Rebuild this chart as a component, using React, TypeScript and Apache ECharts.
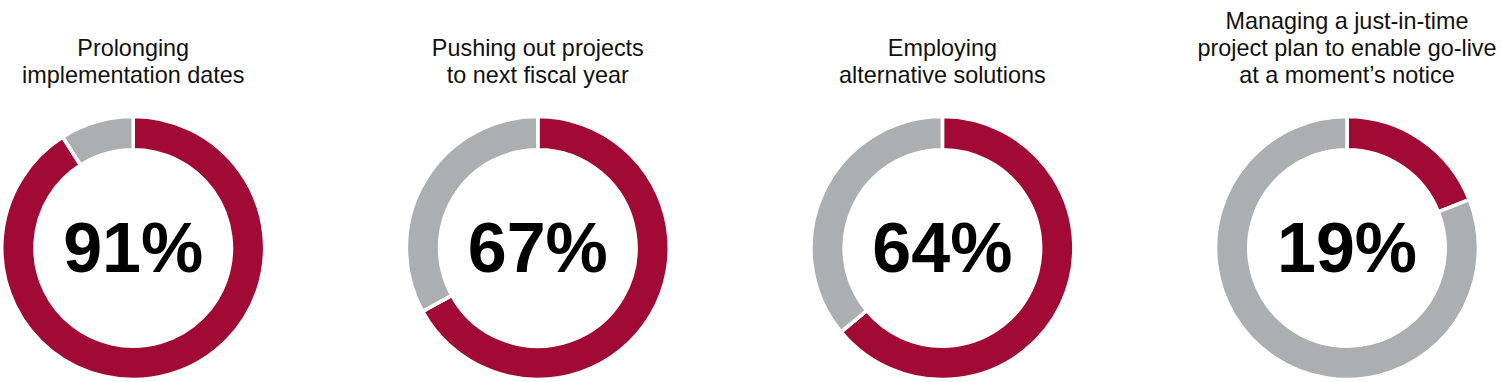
import React, { useEffect, useRef } from "react";
import * as echarts from "echarts";

const categories = [
  "Prolonging\nimplementation dates",
  "Pushing out projects\nto next fiscal year",
  "Employing\nalternative solutions",
  "Managing a just-in-time\nproject plan to enable go-live\nat a moment\u2019s notice",
];
const shareValues = [91, 67, 64, 19];

const RED = "#A10A35";
const GRAY = "#ACAFB2";

export default function App() {
  const ref = useRef<HTMLDivElement>(null);
  useEffect(() => {
    if (!ref.current) return;
    const chart = echarts.init(ref.current, undefined, { renderer: "svg" });
    const cx0 = 133.2;
    const step = 404.6;
    const cy = 248;
    const series = shareValues.map((v, i) => ({
      type: "pie",
      center: [cx0 + i * step, cy],
      radius: [98.2, 131.5],
      startAngle: 90,
      clockwise: true,
      silent: true,
      labelLine: { show: false },
      itemStyle: { borderColor: "#ffffff", borderWidth: 3.6 },
      data: [
        {
          value: v,
          name: "yes",
          itemStyle: { color: RED },
          label: {
            show: true,
            position: "center",
            formatter: v + "%",
            fontFamily: "Liberation Sans",
            fontWeight: "bold",
            fontSize: 70,
            color: "#000000",
          },
        },
        {
          value: 100 - v,
          name: "no",
          itemStyle: { color: GRAY },
          label: { show: false },
        },
      ],
    }));
    const titles = categories.map((c, i) => {
      const lines = c.split("\n").length;
      return {
        text: c,
        left: cx0 + i * step,
        top: lines === 3 ? 7 : 34,
        textAlign: "center",
        padding: 0,
        textStyle: {
          fontFamily: "Liberation Sans",
          fontWeight: "normal",
          fontSize: 23.4,
          lineHeight: 27,
          color: "#111111",
        },
      };
    });
    chart.setOption({
      animation: false,
      backgroundColor: "#ffffff",
      title: titles,
      series,
    });
    return () => chart.dispose();
  }, []);
  return (
    <div
      ref={ref}
      style={{ position: "absolute", left: 0, top: 0, width: 1502, height: 382 }}
    />
  );
}
